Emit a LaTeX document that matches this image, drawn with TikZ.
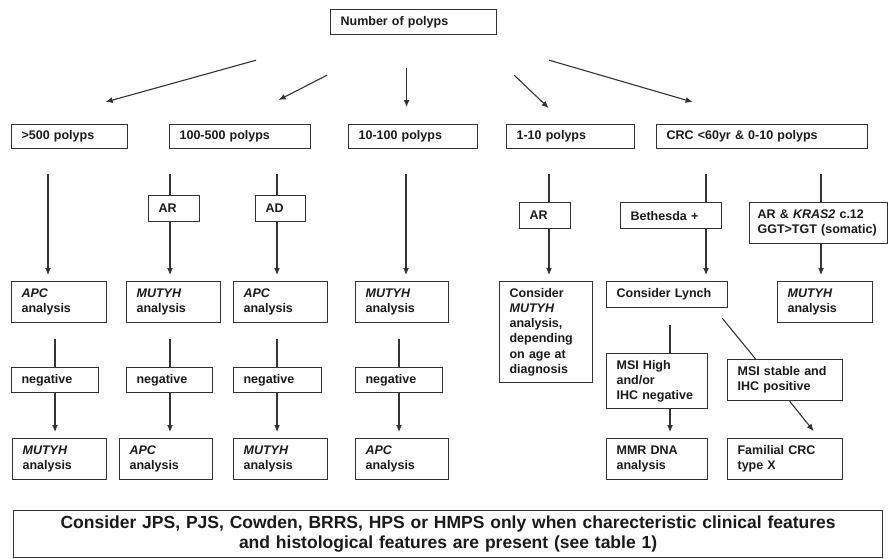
\documentclass[tikz,border=0pt]{standalone}
\usepackage{fontspec}
\setmainfont{Liberation Sans}
\usetikzlibrary{arrows.meta}
\definecolor{ink}{HTML}{1A1A1A}
\definecolor{edge}{HTML}{333333}
\begin{document}
\begin{tikzpicture}[x=1pt,y=-1pt,
  bx/.style={draw=edge, line width=1.2pt, anchor=north west, align=left,
    inner xsep=10pt, inner ysep=2pt, text=ink,
    font=\fontsize{12.5}{15.3}\selectfont\bfseries},
  ln/.style={draw=edge, line width=1.1pt},
  arr/.style={ln, -{Latex[length=7pt,width=6pt]}}]
\fill[white] (0,0) rectangle (889,558);
\useasboundingbox (0,0) rectangle (889,558);
% column coordinates
\coordinate (k48) at (48,0);
\coordinate (k55) at (55,0);
\coordinate (k170) at (170,0);
\coordinate (k277) at (277,0);
\coordinate (k399) at (399,0);
\coordinate (k406) at (406,0);
\coordinate (k549) at (549,0);
\coordinate (k670) at (670,0);
\coordinate (k706) at (706,0);
\coordinate (k821) at (821,0);
% row 1
\node[bx, text width=146pt, minimum height=25pt] (top) at (330,9) {Number of polyps};
% row 2
\node[bx, text width=96pt, minimum height=24pt] (p500) at (11,124) {>500 polyps};
\node[bx, text width=121pt, minimum height=24pt] (p100500) at (169,124) {100-500 polyps};
\node[bx, text width=109pt, minimum height=24pt] (p10100) at (348,124) {10-100 polyps};
\node[bx, text width=108pt, minimum height=24pt] (p110) at (506,124) {1-10 polyps};
\node[bx, text width=191pt, minimum height=24pt] (crc) at (656,124) {CRC <60yr \& 0-10 polyps};
% row 3
\node[bx, text width=31pt, minimum height=26pt] (ar1) at (148,195) {AR};
\node[bx, text width=30pt, minimum height=26pt] (ad) at (255,195) {AD};
\node[bx, text width=31pt, minimum height=26pt] (ar2) at (519,202) {AR};
\node[bx, text width=81pt, minimum height=26pt] (beth) at (620,202) {Bethesda +};
\node[bx, inner xsep=8pt, text width=122pt, minimum height=41pt] (kras) at (749,202) {AR \& \textit{KRAS2} c.12\\GGT>TGT (somatic)};
% row 4
\node[bx, text width=75pt, minimum height=41pt] (apc1) at (11,281) {\textit{APC}\\analysis};
\node[bx, text width=74pt, minimum height=41pt] (mut2) at (126,281) {\textit{MUTYH}\\analysis};
\node[bx, text width=74pt, minimum height=41pt] (apc3) at (233,281) {\textit{APC}\\analysis};
\node[bx, text width=73pt, minimum height=41pt] (mut4) at (355,281) {\textit{MUTYH}\\analysis};
\node[bx, text width=73pt, minimum height=101pt] (cmut) at (499,281) {Consider\\\textit{MUTYH}\\analysis,\\depending\\on age at\\diagnosis};
\node[bx, text width=101pt, minimum height=26pt] (lynch) at (606,281) {Consider Lynch};
\node[bx, text width=75pt, minimum height=41pt] (mutR) at (777,281) {\textit{MUTYH}\\analysis};
% row 5
\node[bx, text width=67pt, minimum height=25pt] (neg1) at (11,367) {negative};
\node[bx, text width=66pt, minimum height=25pt] (neg2) at (126,367) {negative};
\node[bx, text width=68pt, minimum height=25pt] (neg3) at (233,367) {negative};
\node[bx, text width=67pt, minimum height=25pt] (neg4) at (355,367) {negative};
\node[bx, text width=81pt, minimum height=55pt] (msih) at (606,353) {MSI High\\and/or\\IHC negative};
\node[bx, text width=95pt, minimum height=41pt] (msis) at (727,359) {MSI stable and\\IHC positive};
% row 6
\node[bx, text width=74pt, minimum height=41pt] (r6a) at (12,438) {\textit{MUTYH}\\analysis};
\node[bx, text width=73pt, minimum height=41pt] (r6b) at (119,438) {\textit{APC}\\analysis};
\node[bx, text width=74pt, minimum height=41pt] (r6c) at (233,438) {\textit{MUTYH}\\analysis};
\node[bx, text width=73pt, minimum height=41pt] (r6d) at (355,438) {\textit{APC}\\analysis};
\node[bx, text width=81pt, minimum height=41pt] (mmr) at (606,438) {MMR DNA\\analysis};
\node[bx, text width=95pt, minimum height=41pt] (fam) at (727,438) {Familial CRC\\type X};
% bottom note
\node[bx, align=center, text width=849pt, minimum height=47pt,
  font=\fontsize{17.5}{20.5}\selectfont\bfseries] (note) at (13,510)
  {Consider JPS, PJS, Cowden, BRRS, HPS or HMPS only when charecteristic clinical features\\and histological features are present (see table 1)};
% top arrows
\draw[arr] ([xshift=-74pt,yshift=-25pt]top.south west) -- ([xshift=36pt,yshift=22pt]p500.north);
\draw[arr] ([xshift=-3pt,yshift=-40pt]top.south west) -- ([xshift=38.5pt,yshift=24pt]p100500.north);
\draw[arr] ([xshift=-7pt,yshift=-33pt]top.south) -- ([xshift=-6.5pt,yshift=17pt]p10100.north);
\draw[arr] ([xshift=17pt,yshift=-40pt]top.south east) -- ([xshift=-22pt,yshift=16pt]p110.north);
\draw[arr] ([xshift=52pt,yshift=-25pt]top.south east) -- ([xshift=-69.5pt,yshift=22pt]crc.north);
% row 2 to row 4
\draw[arr, shorten <=25pt, shorten >=6pt] (p500.south -| k48) -- (apc1.north -| k48);
\draw[ln, shorten <=25pt] (p100500.south -| k170) -- (ar1.north -| k170);
\draw[arr, shorten >=6pt] (ar1.south -| k170) -- (mut2.north -| k170);
\draw[ln, shorten <=25pt] (p100500.south -| k277) -- (ad.north -| k277);
\draw[arr, shorten >=6pt] (ad.south -| k277) -- (apc3.north -| k277);
\draw[arr, shorten <=25pt, shorten >=6pt] (p10100.south -| k406) -- (mut4.north -| k406);
\draw[ln, shorten <=25pt] (p110.south -| k549) -- (ar2.north -| k549);
\draw[arr, shorten >=6pt] (ar2.south -| k549) -- (cmut.north -| k549);
\draw[ln, shorten <=25pt] (crc.south -| k706) -- (beth.north -| k706);
\draw[arr, shorten >=6pt] (beth.south -| k706) -- (lynch.north -| k706);
\draw[ln, shorten <=25pt] (crc.south -| k821) -- (kras.north -| k821);
\draw[arr, shorten >=6pt] (kras.south -| k821) -- (mutR.north -| k821);
% row 4 to row 6
\draw[ln, shorten <=16pt] (apc1.south -| k55) -- (neg1.north -| k55);
\draw[arr, shorten >=6pt] (neg1.south -| k55) -- (r6a.north -| k55);
\draw[ln, shorten <=16pt] (mut2.south -| k170) -- (neg2.north -| k170);
\draw[arr, shorten >=6pt] (neg2.south -| k170) -- (r6b.north -| k170);
\draw[ln, shorten <=16pt] (apc3.south -| k277) -- (neg3.north -| k277);
\draw[arr, shorten >=6pt] (neg3.south -| k277) -- (r6c.north -| k277);
\draw[ln, shorten <=16pt] (mut4.south -| k399) -- (neg4.north -| k399);
\draw[arr, shorten >=6pt] (neg4.south -| k399) -- (r6d.north -| k399);
\draw[ln, shorten <=17pt] (lynch.south -| k670) -- (msih.north -| k670);
\draw[arr, shorten >=6pt] (msih.south -| k670) -- (mmr.north -| k670);
\draw[ln] ([xshift=-6pt,yshift=-10pt]lynch.south east) -- ([xshift=-29.5pt]msis.north);
\draw[arr] ([xshift=4.5pt]msis.south) -- ([xshift=28.5pt,yshift=7pt]fam.north);
\end{tikzpicture}
\end{document}
